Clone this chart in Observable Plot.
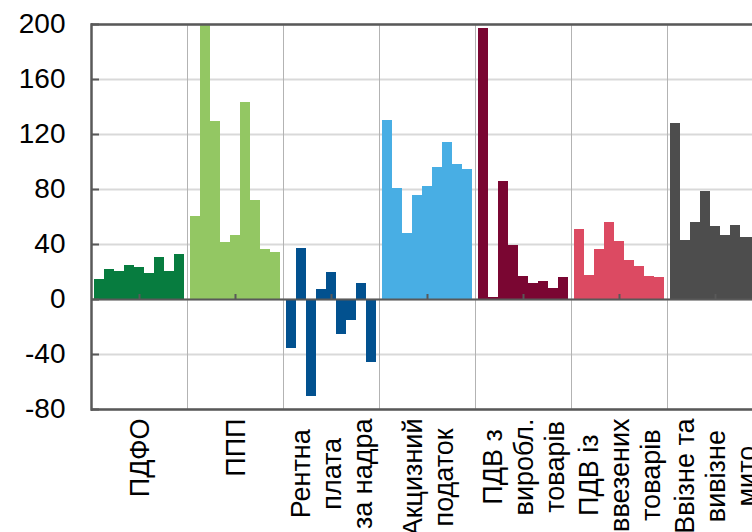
<!DOCTYPE html>
<html>
<head>
<meta charset="utf-8">
<script src="https://cdn.jsdelivr.net/npm/d3@7"></script>
<script src="https://cdn.jsdelivr.net/npm/@observablehq/plot@0.6"></script>
<style>
html, body { margin: 0; padding: 0; background: #fff; overflow: hidden; }
#chart { width: 752px; height: 532px; overflow: hidden; }
#chart svg { max-width: none !important; overflow: visible; }
</style>
</head>
<body>
<div id="chart"></div>
<script>
// Categories (groups) and their multi-line labels
const categories = [
  "ПДФО", "ППП", "Рентна плата за надра", "Акцизний податок",
  "ПДВ з виробл. товарів", "ПДВ із ввезених товарів", "Ввізне та вивізне мито"
];
const labelLines = [
  ["ПДФО"], ["ППП"], ["Рентна", "плата", "за надра"], ["Акцизний", "податок"],
  ["ПДВ з", "виробл.", "товарів"], ["ПДВ із", "ввезених", "товарів"], ["Ввізне та", "вивізне", "мито"]
];
const colors = ["#077C3F", "#93C763", "#02518F", "#48AEE4", "#7A0632", "#DC4A62", "#4D4D4D"];

// Nine periods per group
const periods = ["1", "2", "3", "4", "5", "6", "7", "8", "9"];

// Series values
const pdfo   = [14.6, 21.9, 20.2, 24.6, 23.1, 18.8, 30.4, 20.2, 32.6];
const ppp    = [60.4, 200, 129.1, 41.6, 46.5, 143.0, 72.1, 36.3, 34.3];
const rent   = [-35.9, 37.1, -70.8, 7.3, 19.6, -25.2, -15.0, 11.6, -45.6];
const excise = [129.9, 80.5, 47.8, 75.4, 81.9, 95.8, 113.9, 98.2, 94.3];
const vatDom = [197.3, 1.2, 86.1, 39.3, 16.6, 11.5, 12.9, 7.8, 15.9];
const vatImp = [51.0, 17.3, 36.3, 56.1, 42.2, 28.3, 23.9, 16.6, 15.9];
const duty   = [127.8, 42.7, 55.8, 78.3, 52.8, 46.3, 53.6, 44.8, 45.0];
const seriesValues = [pdfo, ppp, rent, excise, vatDom, vatImp, duty];

const yTicks = [-80, -40, 0, 40, 80, 120, 160, 200];

const data = categories.flatMap((c, gi) =>
  seriesValues[gi].map((v, i) => ({category: c, period: periods[i], value: v}))
);

const FONT = "'Liberation Sans', Arial, sans-serif";
const LABEL_SIZE = 27;
const ctx = document.createElement("canvas").getContext("2d");
ctx.font = `${LABEL_SIZE}px 'Liberation Sans'`;
const maxWidth = lines => d3.max(lines, s => ctx.measureText(s).width);

const dark = "#595959";

const labelMarks = categories.map((c, gi) =>
  Plot.text([c], {
    fx: d => d,
    text: () => labelLines[gi].join("\n"),
    frameAnchor: "bottom",
    rotate: -90,
    textAnchor: "middle",
    lineAnchor: "middle",
    lineHeight: 1.15,
    fontSize: LABEL_SIZE,
    fill: "black",
    dy: 9 + maxWidth(labelLines[gi]) / 2
  })
);

const chart = Plot.plot({
  width: 790,
  height: 532,
  marginLeft: 88,
  marginRight: 25,
  marginTop: 24,
  marginBottom: 123,
  style: {fontFamily: FONT, background: "#fff", maxWidth: "none", overflow: "visible"},
  fx: {domain: categories, padding: 0, axis: null},
  x: {domain: periods, paddingInner: 0, paddingOuter: 0.25, axis: null},
  y: {domain: [yTicks[0], yTicks[yTicks.length - 1]], axis: null},
  color: {domain: categories, range: colors},
  marks: [
    Plot.ruleY(yTicks, {stroke: "#d9d9d9", strokeWidth: 2}),
    Plot.barY(data, {fx: "category", x: "period", y: "value", fill: "category", shapeRendering: "crispEdges"}),
    Plot.frame({stroke: "#b3b3b3", strokeWidth: 1}),
    Plot.ruleY([0], {stroke: dark, strokeWidth: 2}),
    Plot.ruleX([periods[4]], {x: d => d, y1: 0, y2: 0, insetTop: -5, stroke: dark, strokeWidth: 2}),
    Plot.ruleY([yTicks[0], yTicks[yTicks.length - 1]], {stroke: dark, strokeWidth: 2.5}),
    Plot.frame({fx: categories[0], anchor: "left", stroke: dark, strokeWidth: 2.5}),
    Plot.axisY(yTicks, {
      label: null,
      tickSize: -8, tickPadding: 34, tickFormat: d => String(d),
      fontSize: 28, stroke: dark, strokeWidth: 2, fill: "black"
    }),
    ...labelMarks
  ]
});

document.getElementById("chart").append(chart);
</script>
</body>
</html>
